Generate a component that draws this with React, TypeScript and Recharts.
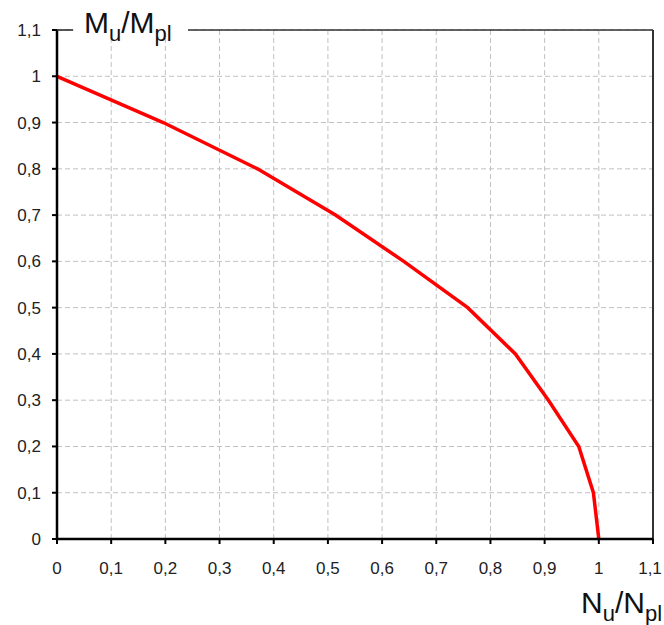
import * as React from "react"
import { LineChart, Line, XAxis, YAxis, CartesianGrid, ReferenceLine, Label } from "recharts"

// N_u/N_pl (x) and M_u/M_pl (y)
const nRatio = [0, 0.196, 0.37, 0.514, 0.64, 0.758, 0.846, 0.907, 0.963, 0.99, 1.0]
const mRatio = [1, 0.9, 0.8, 0.7, 0.6, 0.5, 0.4, 0.3, 0.2, 0.1, 0]

const axisTicks = [0, 0.1, 0.2, 0.3, 0.4, 0.5, 0.6, 0.7, 0.8, 0.9, 1, 1.1]

const data = nRatio.map((n, i) => ({ n, m: mRatio[i] }))

const fmt = (v: number) => String(v).replace(".", ",")

const font = "'Liberation Sans', Arial, sans-serif"

const TopTitle = () => (
  <g>
    <rect x={74} y={12} width={114} height={24} fill="#fff" />
    <line x1={57} y1={30} x2={73} y2={30} stroke="#222" strokeWidth={1.5} />
    <line x1={188} y1={30} x2={653} y2={30} stroke="#333" strokeWidth={1.5} />
    <text x={84} y={33} fontFamily={font} fontSize={30} fill="#111">
      M
      <tspan fontSize={22} dy={8}>u</tspan>
      <tspan fontSize={30} dy={-8}>/M</tspan>
      <tspan fontSize={22} dy={8}>pl</tspan>
    </text>
  </g>
)

const BottomTitle = () => (
  <text x={581} y={613} fontFamily={font} fontSize={30} fill="#111">
    N
    <tspan fontSize={22} dy={8}>u</tspan>
    <tspan fontSize={30} dy={-8}>/N</tspan>
    <tspan fontSize={22} dy={8}>pl</tspan>
  </text>
)

// x tick labels; the last one is nudged left so it stays inside the page
const XTick = ({ x, y, payload }: any) => {
  const last = payload.value === axisTicks[axisTicks.length - 1]
  return (
    <text
      x={last ? x - 3 : x}
      y={y}
      dy="0.71em"
      textAnchor="middle"
      fontFamily={font}
      fontSize={17}
      fill="#222"
    >
      {fmt(payload.value)}
    </text>
  )
}

export default function App() {
  const tickStyle = { fontFamily: font, fontSize: 17, fill: "#222" }
  return (
    <div style={{ position: "absolute", left: 0, top: 0, width: 664, height: 625, background: "#fff" }}>
      <LineChart width={664} height={625} data={data} margin={{ top: 30, right: 11, bottom: 0, left: 0 }}>
        <CartesianGrid stroke="#c0c0c0" strokeDasharray="5 3" />
        <ReferenceLine x={1.1} stroke="#333" strokeWidth={2} />
        <XAxis
          type="number"
          dataKey="n"
          domain={[0, 1.1]}
          ticks={axisTicks}
          height={86}
          tickSize={5}
          tickMargin={18}
          axisLine={{ stroke: "#000", strokeWidth: 2.5 }}
          tickLine={{ stroke: "#000", strokeWidth: 2 }}
          tick={<XTick />}
          interval={0}
        >
          <Label content={() => <BottomTitle />} />
        </XAxis>
        <YAxis
          type="number"
          domain={[0, 1.1]}
          ticks={axisTicks}
          tickFormatter={fmt}
          width={57}
          tickSize={5}
          tickMargin={11}
          axisLine={{ stroke: "#000", strokeWidth: 2.5 }}
          tickLine={{ stroke: "#000", strokeWidth: 2 }}
          tick={tickStyle}
          interval={0}
        >
          <Label content={() => <TopTitle />} />
        </YAxis>
        <Line
          type="linear"
          dataKey="m"
          stroke="#ff0000"
          strokeWidth={3.5}
          dot={false}
          isAnimationActive={false}
        />
      </LineChart>
    </div>
  )
}
